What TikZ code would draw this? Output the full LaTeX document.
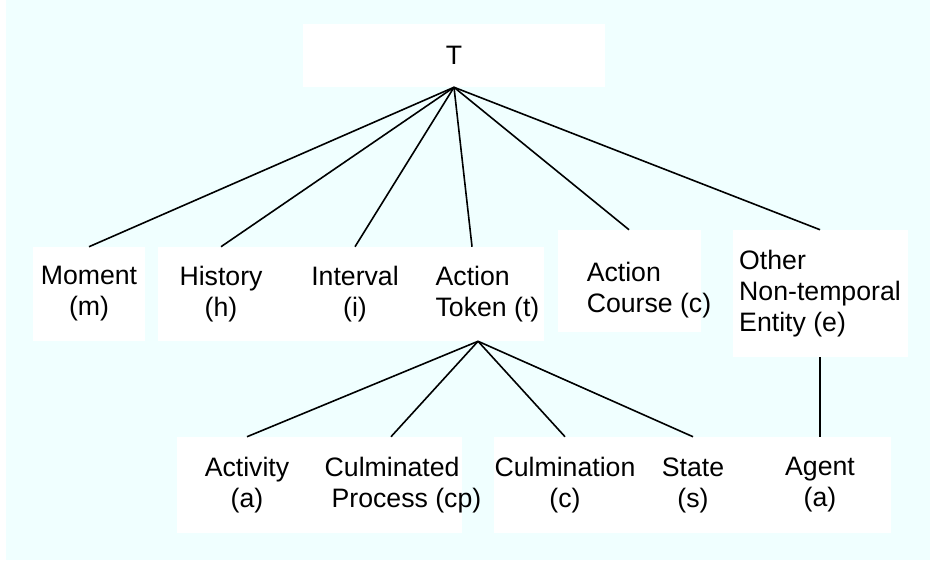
\documentclass[tikz,border=0pt]{standalone}
\usepackage{fontspec}
\setmainfont{Liberation Sans}
\usepackage{tikz}
\usetikzlibrary{positioning}
\definecolor{paleazure}{HTML}{F0FFFF}

\begin{document}
\begin{tikzpicture}[
  x=0.75pt,y=-0.75pt,
  font=\fontsize{20pt}{23.3pt}\selectfont,
  panel/.style={fill=white},
  concept/.style={inner sep=0pt,align=center},
  leftconcept/.style={inner sep=0pt,align=left},
  link/.style={draw,line width=1.2pt},
]
  % Background
  \useasboundingbox[fill=white] (0,0) rectangle (930,560);
  \fill[paleazure] (6,0) rectangle (930,560);

  % White panels behind grouped concepts
  \fill[panel] (158,247) rectangle (544,341);
  \fill[panel] (558,230) rectangle (701,332);
  \fill[panel] (177,437) rectangle (462,533);
  \fill[panel] (494,437) rectangle (720,533);
  \fill[panel] (720,437) rectangle (891,533);

  % Root
  \node[concept,panel,minimum width=226.5pt,minimum height=47.25pt] (top) at (454,55.5) {T};

  % First level
  \node[concept,panel,minimum width=84pt,minimum height=70.5pt] (mom) at (89,294) {Moment\\(m)};
  \node[concept,minimum height=70.5pt] (hist) at (221,294) {History\\(h)};
  \node[concept,minimum height=70.5pt] (intv) at (355,294) {Interval\\(i)};
  \node[leftconcept,minimum height=70.5pt] (tok) at (487.5,294) {Action\\Token (t)};
  \node[leftconcept,minimum height=90pt] (crs) at (649,290) {Action\\Course (c)};
  \node[leftconcept,panel,minimum width=131.25pt,minimum height=95.25pt] (oth) at (820,293.5)
    {Other\\Non-temporal\\Entity (e)};

  % Second level
  \node[concept,minimum height=72pt] (act) at (247,485) {Activity\\(a)};
  \node[leftconcept,minimum height=72pt] (cpr) at (403,485) {Culminated\\\hspace*{5.2pt}Process (cp)};
  \node[concept,minimum height=72pt] (cul) at (565,485) {Culmination\\(c)};
  \node[concept,minimum height=72pt] (sta) at (693,485) {State\\(s)};
  \node[concept,minimum height=72pt] (agt) at (820,485) {Agent\\(a)};

  % Links
  \draw[link] (top.south) -- (mom.north);
  \draw[link] (top.south) -- (hist.north);
  \draw[link] (top.south) -- (intv.north);
  \draw[link] (top.south) -- ([xshift=-11.6pt]tok.north);
  \draw[link] (top.south) -- ([xshift=-15pt]crs.north);
  \draw[link] (top.south) -- (oth.north);

  \draw[link] ([xshift=-7.1pt]tok.south) -- (act.north);
  \draw[link] ([xshift=-7.1pt]tok.south) -- ([xshift=-9pt]cpr.north);
  \draw[link] ([xshift=-7.1pt]tok.south) -- (cul.north);
  \draw[link] ([xshift=-7.1pt]tok.south) -- (sta.north);
  \draw[link] (oth.south) -- (agt.north);
\end{tikzpicture}
\end{document}
